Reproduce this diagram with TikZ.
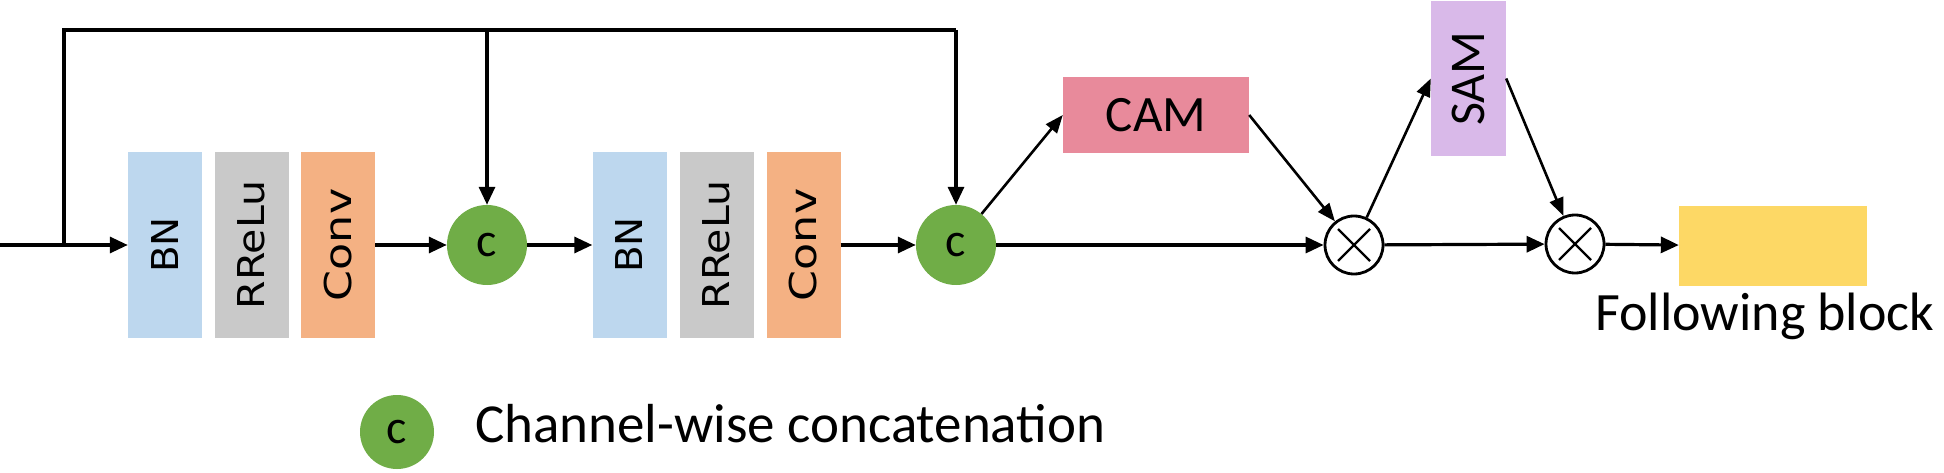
\documentclass[tikz,border=0pt]{standalone}
\usepackage{graphicx}
\usepackage{fontspec}
\setmainfont{Carlito}
\newfontfamily\dejavu{DejaVu Sans}
\usetikzlibrary{arrows.meta,calc}
\definecolor{bnblue}{HTML}{BDD7EE}
\definecolor{relugray}{HTML}{C9C9C9}
\definecolor{convorange}{HTML}{F4B183}
\definecolor{catgreen}{HTML}{70AD47}
\definecolor{campink}{HTML}{E88A9B}
\definecolor{samlilac}{HTML}{D9B9E9}
\definecolor{fbyellow}{HTML}{FDD865}
\newcommand{\fsz}[1]{\fontsize{#1}{#1}\selectfont}
\newcommand{\vlbl}[2]{\rotatebox{90}{\scalebox{#1}[1]{\dejavu\fsz{37}#2}}}
\begin{document}
\begin{tikzpicture}[x=1pt,y=-1pt,
  blk/.style={rectangle, minimum width=74pt, minimum height=186pt, inner sep=0pt},
  cat/.style={circle, fill=catgreen, minimum size=80pt, inner sep=0pt, font=\fsz{48}},
  mul/.style={circle, draw=black, line width=2.8pt, minimum size=58pt, inner sep=0pt},
  conn/.style={line width=3.2pt, -{Triangle[length=18pt,width=16pt]}},
  diag/.style={line width=2.6pt, -{Triangle[length=18pt,width=14pt]}},
  wire/.style={line width=3.2pt}]
\useasboundingbox (0,0) rectangle (1944,473);
\fill[white] (0,0) rectangle (1944,473);
% blocks
\node[blk, fill=bnblue] (bn1) at (165,245) {\vlbl{1.05}{BN}};
\node[blk, fill=relugray] (re1) at (251.5,245) {\vlbl{1.11}{RReLu}};
\node[blk, fill=convorange] (cv1) at (338,245) {\vlbl{1.2}{Conv}};
\node[cat] (c1) at (487,245) {c};
\node[blk, fill=bnblue] (bn2) at (629.5,245) {\vlbl{1.05}{BN}};
\node[blk, fill=relugray] (re2) at (716.5,245) {\vlbl{1.11}{RReLu}};
\node[blk, fill=convorange] (cv2) at (803.5,245) {\vlbl{1.2}{Conv}};
\node[cat] (c2) at (956,245) {c};
\node[fill=campink, minimum width=186pt, minimum height=76pt, inner sep=0pt, font=\fsz{51}] (cam) at (1156,115) {CAM};
\node[fill=samlilac, minimum width=75pt, minimum height=155pt, inner sep=0pt] (sam) at (1468.5,78.5) {\rotatebox{90}{\fsz{50}SAM}};
\node[mul] (m1) at (1354,245) {};
\node[mul] (m2) at (1575,244) {};
\node[fill=fbyellow, minimum width=188pt, minimum height=80pt, inner sep=0pt] (fb) at (1773,246) {};
\node[anchor=base west, font=\fsz{54}, inner sep=0pt] (fbl) at (1595,330) {Following block};
% legend
\node[cat, minimum size=74pt] (lc) at (397,432) {c};
\node[anchor=base west, font=\fsz{55}, inner sep=0pt] (lt) at (475,442) {Channel-wise concatenation};
% crosses
\foreach \m in {m1,m2} {
  \draw[line width=2.4pt] ([shift={(-16,-16)}]\m.center) -- ([shift={(16,16)}]\m.center);
  \draw[line width=2.4pt] ([shift={(-16,16)}]\m.center) -- ([shift={(16,-16)}]\m.center);
}
% connectors
\coordinate (in) at (0,245);
\coordinate (sp) at (64,245);
\coordinate (tl) at (64,30);
\coordinate (tm) at (c1 |- tl);
\coordinate (tr) at (c2 |- tl);
\draw[conn] (in) -- (bn1);
\draw[wire, line join=miter] (sp) -- (tl) -- (tr);
\draw[conn] (tm) -- (c1);
\draw[conn] (tr) -- (c2);
\draw[conn] (cv1) -- (c1);
\draw[conn] (c1) -- (bn2);
\draw[conn] (cv2) -- (c2);
\draw[conn] (c2) -- (m1);
\draw[conn] (m1) -- (m2);
\draw[conn] (m2) -- (fb);
\draw[diag] (c2) -- (cam.west);
\draw[diag] (cam.east) -- (m1);
\draw[diag] (m1) -- (sam.west);
\draw[diag] (sam.east) -- (m2);
\end{tikzpicture}
\end{document}
